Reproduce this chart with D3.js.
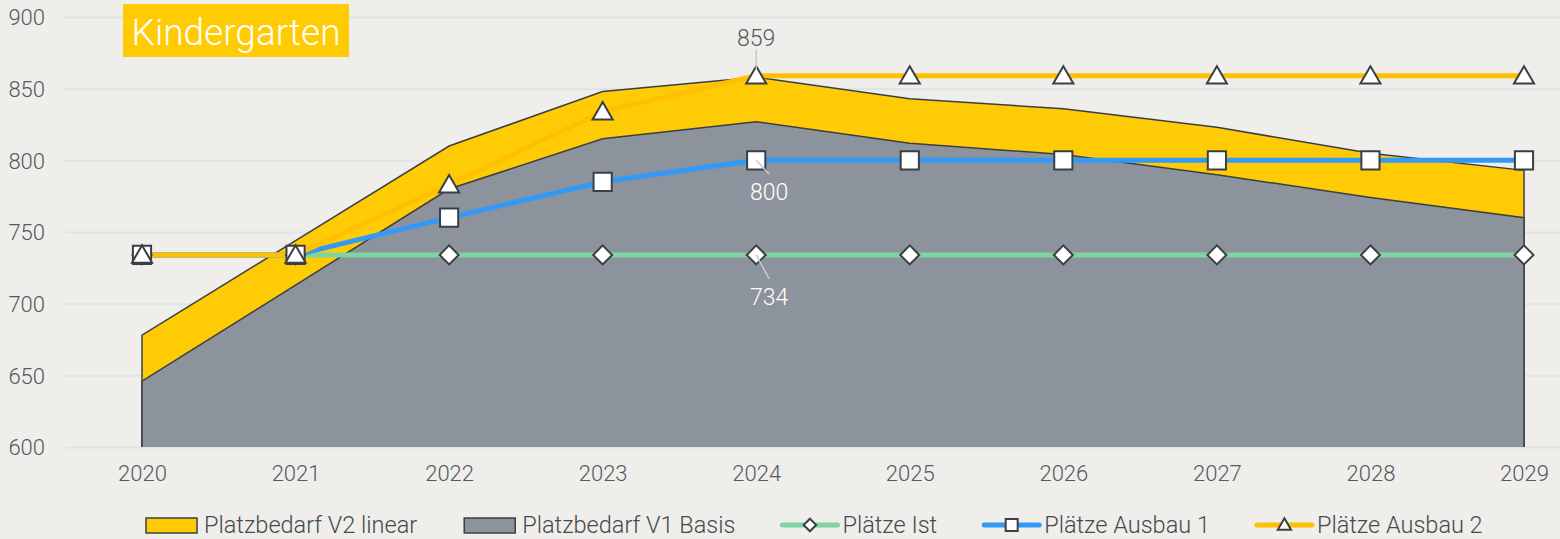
<!DOCTYPE html>
<meta charset="utf-8">
<style>
body { margin: 0; background: #efeeea; }
svg { font-family: Roboto, "Noto Sans", sans-serif; }
.grid line { stroke: #dfe2e6; stroke-width: 2px; }
.axis text { fill: #55595e; font-family: Roboto, sans-serif; font-size: 22px; font-weight: 300; }
.legend text { fill: #45494e; font-size: 23.5px; font-weight: 300; }
</style>
<body>
<script src="https://cdn.jsdelivr.net/npm/d3@7"></script>
<script>

// chart data
var years = [2020, 2021, 2022, 2023, 2024, 2025, 2026, 2027, 2028, 2029];
var bedarfV2 = [678, 744, 810, 848, 858, 843, 836, 823, 805, 793];
var bedarfV1 = [646, 713, 780, 815, 827, 812, 804, 790, 774, 760];
var plaetzeIst = [734, 734, 734, 734, 734, 734, 734, 734, 734, 734];
var ausbau1 = [734, 734, 760, 785, 800, 800, 800, 800, 800, 800];
var ausbau2 = [734, 734, 783, 834, 859, 859, 859, 859, 859, 859];
var yTicks = [600, 650, 700, 750, 800, 850, 900];

var width = 1560, height = 539;
var dark = "#3a3f46";

var svg = d3.select("body").append("svg")
    .attr("width", width)
    .attr("height", height);

var x = d3.scalePoint().domain(years).range([142, 1524]);
var y = d3.scaleLinear().domain([600, 900]).range([447, 17]);

// gridlines + y labels
var yAxis = svg.append("g")
    .attr("class", "axis grid")
    .attr("transform", "translate(65,0)")
    .call(d3.axisLeft(y).tickValues(yTicks).tickSize(-(width - 65)).tickPadding(20));
yAxis.select(".domain").remove();
yAxis.selectAll("text").attr("dy", "0.36em");

// x labels
var xAxis = svg.append("g")
    .attr("class", "axis")
    .attr("transform", "translate(0," + y(600) + ")")
    .call(d3.axisBottom(x).tickSize(0).tickPadding(18));
xAxis.select(".domain").remove();

function rows(vals) {
  return years.map(function(yr, i) { return {year: yr, v: vals[i]}; });
}

var area = d3.area()
    .x(function(d) { return x(d.year); })
    .y0(y(600))
    .y1(function(d) { return y(d.v); });

// outline incl. vertical sides, no bottom edge
function outline(vals) {
  var pts = rows(vals);
  pts.unshift({year: years[0], v: 600});
  pts.push({year: years[years.length - 1], v: 600});
  return d3.line().x(function(d) { return x(d.year); }).y(function(d) { return y(d.v); })(pts);
}

var areas = [
  {vals: bedarfV2, color: "#ffcb05"},
  {vals: bedarfV1, color: "#8c939c"}
];
areas.forEach(function(a) {
  svg.append("path").attr("d", area(rows(a.vals))).attr("fill", a.color);
  svg.append("path").attr("d", outline(a.vals))
      .attr("fill", "none").attr("stroke", dark).attr("stroke-width", 1.5);
});

// line series
var series = [
  {vals: plaetzeIst, color: "#7fd4a2", sym: "diamond"},
  {vals: ausbau1, color: "#3399f7", sym: "square"},
  {vals: ausbau2, color: "#ffc000", sym: "triangle"}
];

function symPath(sym, big) {
  var k = big ? 1 : 0.66;
  if (sym == "square") return d3.symbol().type(d3.symbolSquare).size(330 * k * k)();
  if (sym == "diamond") return d3.symbol().type(d3.symbolSquare).size(180 * k * k)();
  return d3.symbol().type(d3.symbolTriangle).size(175 * k * k)();
}

var line = d3.line()
    .x(function(d) { return x(d.year); })
    .y(function(d) { return y(d.v); });

series.forEach(function(s) {
  svg.append("path").attr("d", line(rows(s.vals)))
      .attr("fill", "none").attr("stroke", s.color).attr("stroke-width", 5)
      .attr("stroke-linejoin", "round");
});
series.forEach(function(s) {
  svg.selectAll(null).data(rows(s.vals)).enter().append("path")
      .attr("d", symPath(s.sym, true))
      .attr("transform", function(d) {
        var t = "translate(" + x(d.year) + "," + (y(d.v) + (s.sym == "triangle" ? 2 : 0)) + ")";
        return s.sym == "diamond" ? t + " rotate(45)" : t;
      })
      .attr("fill", "#fff").attr("stroke", dark).attr("stroke-width", 2);
});

// data labels at 2024
var labels = [
  {vals: ausbau2, dx: 0, dy: -30, ly: -7, ldx: 0, ldy: -19, color: "#55595e"},
  {vals: ausbau1, dx: 13, dy: 40, ly: 0, ldx: 13, ldy: 14, color: "#fff"},
  {vals: plaetzeIst, dx: 13, dy: 50, ly: 0, ldx: 13, ldy: 24, color: "#fff"}
];
labels.forEach(function(l) {
  var i = years.indexOf(2024);
  var px = x(2024), py = y(l.vals[i]);
  svg.append("line")
      .attr("x1", px).attr("y1", py + l.ly)
      .attr("x2", px + l.ldx).attr("y2", py + l.ly + l.ldy)
      .attr("stroke", "#c5cad0").attr("stroke-width", 1.5);
  svg.append("text")
      .attr("x", px + l.dx).attr("y", py + l.dy)
      .attr("text-anchor", "middle")
      .attr("font-size", 23).attr("font-weight", 300)
      .attr("fill", l.color)
      .text(l.vals[i]);
});

// title box
svg.append("rect").attr("x", 123).attr("y", 4).attr("width", 226).attr("height", 53)
    .attr("fill", "#ffcb05");
svg.append("text").attr("x", 236).attr("y", 45)
    .attr("text-anchor", "middle")
    .attr("font-size", 37).attr("font-weight", 300)
    .attr("fill", "#fff")
    .text("Kindergarten");

// legend
var legendItems = [
  {name: "Platzbedarf V2 linear", kind: "rect", color: "#ffcb05"},
  {name: "Platzbedarf V1 Basis", kind: "rect", color: "#8c939c"},
  {name: "Plätze Ist", kind: "line", color: "#7fd4a2", sym: "diamond"},
  {name: "Plätze Ausbau 1", kind: "line", color: "#3399f7", sym: "square"},
  {name: "Plätze Ausbau 2", kind: "line", color: "#ffc000", sym: "triangle"}
];
var legend = svg.append("g").attr("class", "legend").attr("transform", "translate(0,525)");
var lx = 146;
legendItems.forEach(function(it) {
  var g = legend.append("g").attr("transform", "translate(" + lx + ",0)");
  var tx;
  if (it.kind == "rect") {
    g.append("rect").attr("x", 0).attr("y", -7).attr("width", 51).attr("height", 15)
        .attr("fill", it.color).attr("stroke", dark).attr("stroke-width", 1.5);
    tx = 58;
  } else {
    g.append("line").attr("x1", 0).attr("x2", 55).attr("y1", 0).attr("y2", 0)
        .attr("stroke", it.color).attr("stroke-width", 5).attr("stroke-linecap", "round");
    g.append("path").attr("d", symPath(it.sym, false))
        .attr("transform", "translate(27.5," + (it.sym == "triangle" ? 1 : 0) + ")" + (it.sym == "diamond" ? " rotate(45)" : ""))
        .attr("fill", "#fff").attr("stroke", dark).attr("stroke-width", 2);
    tx = 60;
  }
  var t = g.append("text").attr("x", tx).attr("y", 0).attr("dy", "0.35em").text(it.name);
  lx += tx + t.node().getComputedTextLength() + 47;
});

</script>
</body>
